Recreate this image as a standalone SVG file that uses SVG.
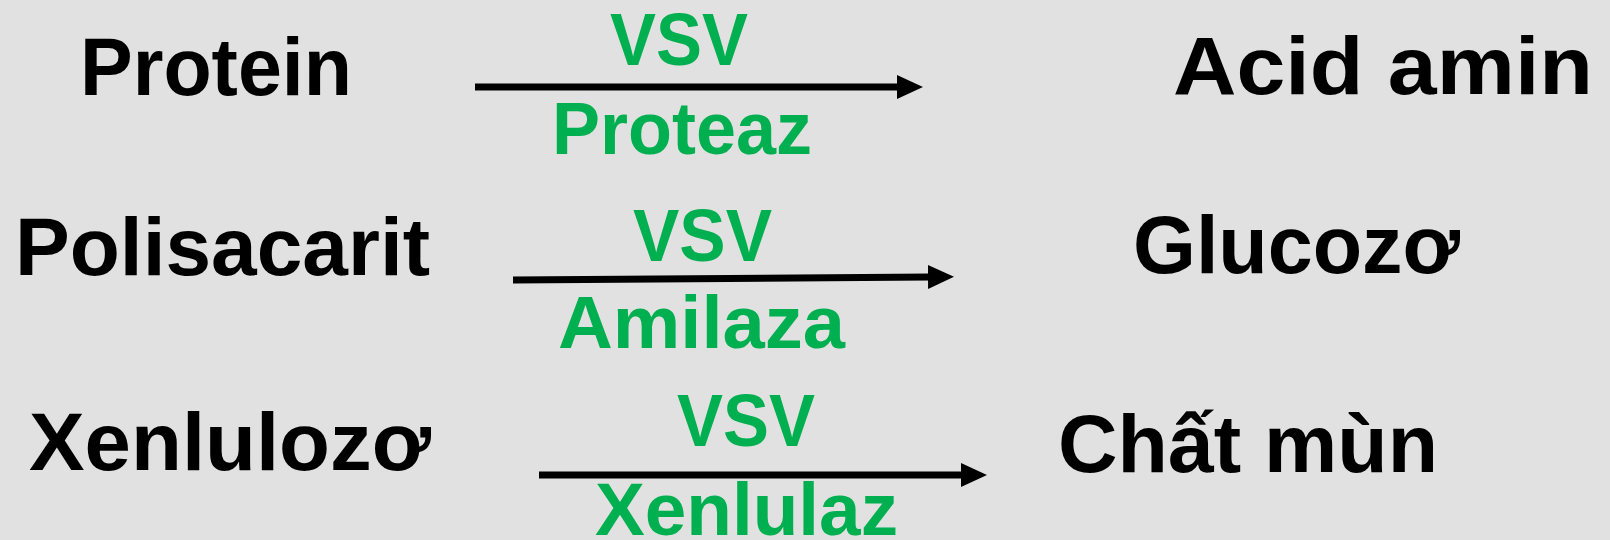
<svg xmlns="http://www.w3.org/2000/svg" width="1610" height="540" viewBox="0 0 1610 540">
<defs>
<style>
.n{font-family:"Liberation Sans",Arial,sans-serif;font-weight:bold;font-size:82px;fill:#000}
.g{font-family:"Liberation Sans",Arial,sans-serif;font-weight:bold;font-size:74px;fill:#00B050}
.c{stroke:#000;stroke-width:7;fill:none}
</style>
<marker id="ah" markerUnits="userSpaceOnUse" markerWidth="26" markerHeight="26" refX="2" refY="12" orient="auto">
<polygon points="0,0 26,12 0,24" fill="#000"/>
</marker>
</defs>
<rect width="1610" height="540" fill="#E1E1E1"/>
<g id="protein"><text class="n" x="80" y="95" textLength="272" lengthAdjust="spacingAndGlyphs">Protein</text></g>
<g id="acid-amin"><text class="n" x="1173" y="94" textLength="420" lengthAdjust="spacingAndGlyphs">Acid amin</text></g>
<g id="polisacarit"><text class="n" x="15" y="275" textLength="415" lengthAdjust="spacingAndGlyphs">Polisacarit</text></g>
<g id="glucozo"><text class="n" x="1133" y="273" textLength="327" lengthAdjust="spacingAndGlyphs">Glucozơ</text></g>
<g id="xenlulozo"><text class="n" x="29" y="470" textLength="402" lengthAdjust="spacingAndGlyphs">Xenlulozơ</text></g>
<g id="chat-mun"><text class="n" x="1058" y="472" textLength="380" lengthAdjust="spacingAndGlyphs">Chất mùn</text></g>
<g id="connectors">
<line class="c" x1="475" y1="87" x2="899" y2="87" marker-end="url(#ah)"/>
<line class="c" x1="513" y1="280" x2="930" y2="277" marker-end="url(#ah)"/>
<line class="c" x1="539" y1="475" x2="963" y2="475" marker-end="url(#ah)"/>
<text class="g" x="610" y="65" textLength="138" lengthAdjust="spacingAndGlyphs">VSV</text>
<text class="g" x="552" y="154" textLength="260" lengthAdjust="spacingAndGlyphs">Proteaz</text>
<text class="g" x="633" y="261" textLength="139" lengthAdjust="spacingAndGlyphs">VSV</text>
<text class="g" x="558" y="348" textLength="287" lengthAdjust="spacingAndGlyphs">Amilaza</text>
<text class="g" x="677" y="446" textLength="138" lengthAdjust="spacingAndGlyphs">VSV</text>
<text class="g" x="595" y="535" textLength="303" lengthAdjust="spacingAndGlyphs">Xenlulaz</text>
</g>
</svg>
